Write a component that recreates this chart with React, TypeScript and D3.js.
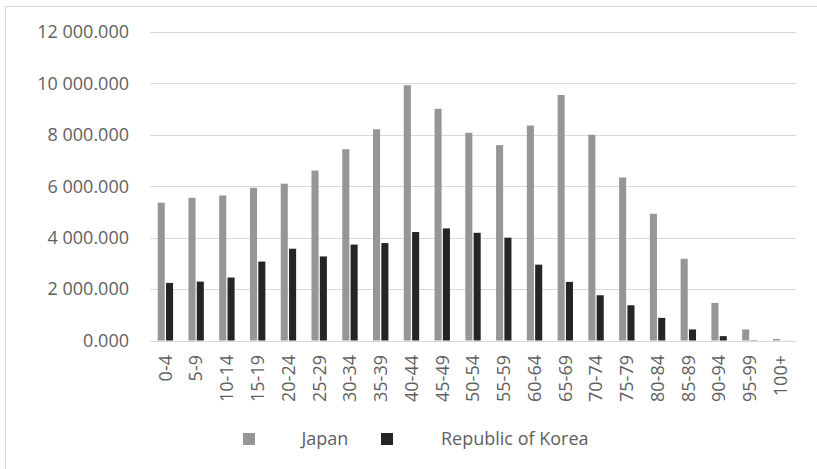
import React from "react";
import * as d3 from "d3";

const categories = ["0-4","5-9","10-14","15-19","20-24","25-29","30-34","35-39","40-44","45-49","50-54","55-59","60-64","65-69","70-74","75-79","80-84","85-89","90-94","95-99","100+"];
const japan = [5.36,5.55,5.64,5.94,6.10,6.61,7.44,8.22,9.93,9.01,8.08,7.60,8.36,9.55,8.00,6.34,4.93,3.18,1.46,0.43,0.06].map(v => v * 1e6);
const korea = [2.24,2.29,2.45,3.07,3.57,3.27,3.73,3.79,4.22,4.36,4.19,4.00,2.95,2.28,1.76,1.37,0.88,0.43,0.17,0.012,0.002].map(v => v * 1e6);
const yTicks = [0, 2e6, 4e6, 6e6, 8e6, 10e6, 12e6];
const seriesNames = ["Japan", "Republic of Korea"];
const seriesColors = ["#969696", "#252525"];

const fmt = (v: number) => {
  const m = Math.round(v / 1000);
  const s = d3.format(",")(m).replace(/,/g, " ");
  return s + ".000";
};

export default function App() {
  const W = 817, H = 469;
  const x = d3.scaleBand<string>().domain(categories).range([150, 796]);
  const y = d3.scaleLinear().domain([0, 12e6]).range([340.5, 32]);
  const sub = d3.scaleBand<number>().domain([0, 1]).range([-7.7, 7.7]).paddingInner(0.15);
  const font = "'Open Sans', sans-serif";
  const txt = "#5f5f5f";
  return (
    <svg width={W} height={H} style={{ position: "absolute", left: 0, top: 0, background: "#fff" }}>
      <rect x={5.5} y={6.5} width={830} height={480} fill="#fff" stroke="#d9d9d9" strokeWidth={1} />
      {yTicks.map(t => (
        <g key={t}>
          <line x1={150} x2={796} y1={Math.round(y(t)) + 0.5} y2={Math.round(y(t)) + 0.5} stroke="#d9d9d9" strokeWidth={1.2} />
          <text x={129} y={y(t)} dy="0.35em" textAnchor="end" fontFamily={font} fontSize={18} fill={txt}>{fmt(t)}</text>
        </g>
      ))}
      {categories.map((c, i) => {
        const cx = (x(c) as number) + x.bandwidth() / 2;
        return (
          <g key={c}>
            {[japan[i], korea[i]].map((v, s) => (
              <rect key={s} x={cx + (sub(s) as number)} width={sub.bandwidth()} y={y(v)} height={y(0) - y(v)} fill={seriesColors[s]} />
            ))}
            <text transform={`translate(${cx},355) rotate(-90)`} dy="0.35em" textAnchor="end" fontFamily={font} fontSize={18} fill={txt}>{c}</text>
          </g>
        );
      })}
      <rect x={243} y={433} width={12} height={12} fill={seriesColors[0]} />
      <text x={301.5} y={445} fontFamily={font} fontSize={18} fill={txt}>{seriesNames[0]}</text>
      <rect x={381} y={433} width={12} height={12} fill={seriesColors[1]} />
      <text x={441} y={445} fontFamily={font} fontSize={18} fill={txt}>{seriesNames[1]}</text>
    </svg>
  );
}
